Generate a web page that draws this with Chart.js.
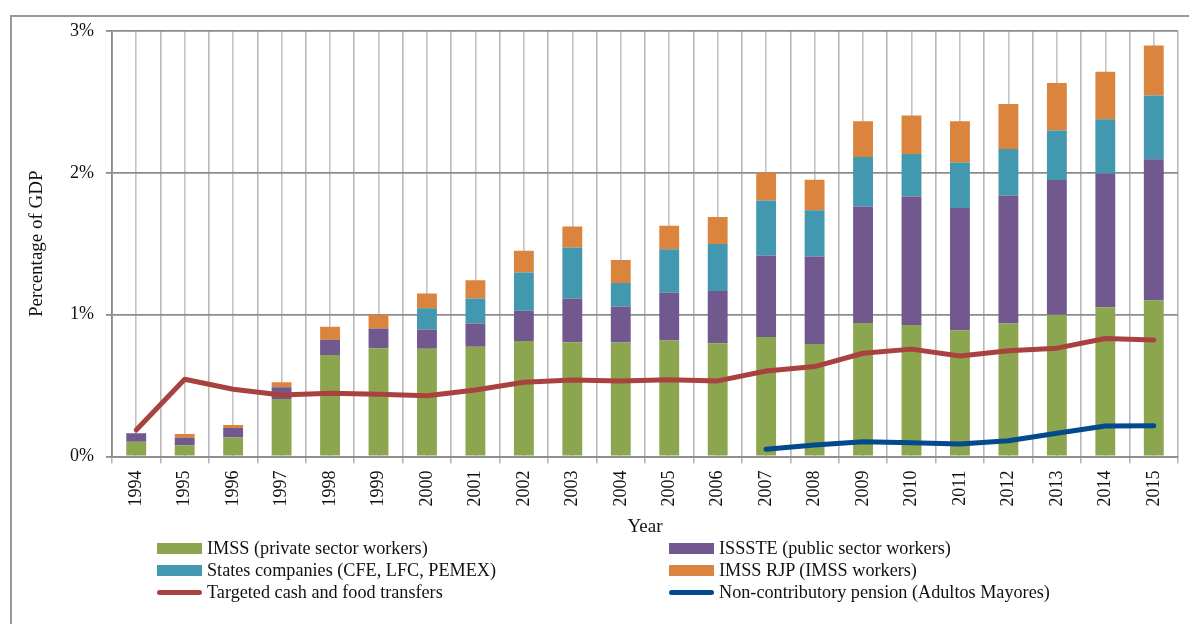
<!DOCTYPE html>
<html>
<head>
<meta charset="utf-8">
<script src="https://cdn.jsdelivr.net/npm/chart.js@4/dist/chart.umd.min.js"></script>
<style>
  body { margin: 0; background: #fff; }
  #wrap { position: relative; width: 1189px; height: 624px; overflow: hidden; font-family: "Liberation Serif", serif; }
  #frame { position: absolute; left: 10px; top: 15px; width: 1300px; height: 700px; border-left: 2px solid #9a9a9a; border-top: 2px solid #9a9a9a; }
  #chart { position: absolute; left: 0; top: 0; }
  #legend { position: absolute; left: 157px; top: 538px; display: grid; grid-template-columns: 512px 420px; grid-auto-rows: 21.7px; font-size: 18.2px; color: #111; }
  .item { display: flex; align-items: center; white-space: nowrap; }
  .sw { width: 45px; margin-right: 5px; flex: none; }
</style>
</head>
<body>
<div id="wrap">
  <div id="frame"></div>
  <canvas id="chart" width="1189" height="624"></canvas>
  <div id="legend"></div>
</div>
<script>
// values are % of GDP
var years = ['1994','1995','1996','1997','1998','1999','2000','2001','2002','2003','2004',
             '2005','2006','2007','2008','2009','2010','2011','2012','2013','2014','2015'];
var imss    = [0.104,0.079,0.135,0.406,0.716,0.764,0.759,0.773,0.815,0.806,0.803,0.817,0.799,0.843,0.794,0.942,0.928,0.890,0.937,0.999,1.053,1.100];
var issste  = [0.060,0.054,0.066,0.082,0.108,0.138,0.136,0.164,0.212,0.308,0.254,0.337,0.367,0.574,0.616,0.821,0.905,0.862,0.903,0.950,0.943,0.995];
var states  = [0,0,0,0,0,0,0.151,0.177,0.270,0.360,0.167,0.308,0.332,0.388,0.327,0.348,0.300,0.321,0.328,0.350,0.381,0.451];
var imssRjp = [0,0.026,0.021,0.036,0.090,0.097,0.103,0.129,0.153,0.148,0.161,0.165,0.190,0.198,0.214,0.252,0.272,0.290,0.318,0.335,0.336,0.351];
var transfers = [0.187,0.545,0.474,0.434,0.446,0.439,0.429,0.469,0.524,0.540,0.533,0.542,0.533,0.603,0.634,0.728,0.757,0.709,0.745,0.764,0.832,0.822];
var pension = [null,null,null,null,null,null,null,null,null,null,null,null,null,0.051,0.081,0.104,0.097,0.088,0.111,0.164,0.215,0.217];
var yTicks = [0, 1, 2, 3];

var colors = {
  imss: '#8BA64F', issste: '#71588F', states: '#4298AF', rjp: '#DB843D',
  transfers: '#A9423F', pension: '#024A8C'
};

Chart.defaults.font.family = '"Liberation Serif", serif';
Chart.defaults.font.size = 18;
Chart.defaults.color = '#111';

function bar(label, data, color) {
  return { type: 'bar', label: label, data: data, backgroundColor: color, borderWidth: 0,
           stack: 'bars', order: 1, categoryPercentage: 1, barPercentage: 0.41 };
}
// each line gets its own stack so it is not piled on the bars or the other line
function line(label, data, color, stackId) {
  return { type: 'line', label: label, data: data, borderColor: color, backgroundColor: color,
           borderWidth: 5, pointRadius: 0, tension: 0, order: 0, spanGaps: false, stack: stackId,
           borderCapStyle: 'round', borderJoinStyle: 'round' };
}

var datasets = [
  bar('IMSS (private sector workers)', imss, colors.imss),
  bar('ISSSTE (public sector workers)', issste, colors.issste),
  bar('States companies (CFE, LFC, PEMEX)', states, colors.states),
  bar('IMSS RJP (IMSS workers)', imssRjp, colors.rjp),
  line('Targeted cash and food transfers', transfers, colors.transfers, 'l1'),
  line('Non-contributory pension (Adultos Mayores)', pension, colors.pension, 'l2')
];

var ctx = document.getElementById('chart').getContext('2d');
var chart = new Chart(ctx, {
  type: 'bar',
  data: { labels: years, datasets: datasets },
  options: {
    responsive: false,
    animation: false,
    layout: { padding: { left: 0, top: 31, right: 11, bottom: 0 } },
    plugins: { legend: { display: false }, tooltip: { enabled: false } },
    scales: {
      x: {
        type: 'category', stacked: true, offset: true,
        grid: { offset: true, color: '#b8b8b8', lineWidth: 1.6, tickLength: 7, drawTicks: true },
        border: { display: true, color: '#8c8c8c', width: 1.8 },
        ticks: { minRotation: 90, maxRotation: 90, padding: 7, font: { size: 18 } },
        title: { display: true, text: 'Year', font: { size: 19 }, padding: { top: 0, bottom: 86 } },
        afterFit: function(s) { s.height = 167.5; }
      },
      x2: {
        type: 'category', axis: 'x', position: 'bottom', offset: true, labels: years,
        grid: { offset: false, color: '#c4c4c4', lineWidth: 1.6, drawTicks: false },
        border: { display: false },
        ticks: { display: false },
        afterFit: function(s) { s.height = 0; }
      },
      y: {
        stacked: true, min: 0, max: 3,
        afterBuildTicks: function(s) { s.ticks = yTicks.map(function(v) { return { value: v }; }); },
        grid: { color: '#8c8c8c', lineWidth: 1.8, tickLength: 6 },
        border: { display: true, color: '#8c8c8c', width: 1.8 },
        ticks: { padding: 12, font: { size: 18 }, callback: function(v) { return v + '%'; } },
        title: { display: true, text: 'Percentage of GDP', font: { size: 19 }, padding: { top: 26, bottom: 0 } },
        afterFit: function(s) { s.width = 112; }
      }
    }
  }
});

// two-column legend like the original, built from the chart's datasets
var legend = document.getElementById('legend');
chart.data.datasets.forEach(function(ds) {
  var item = document.createElement('div');
  item.className = 'item';
  var sw = document.createElement('span');
  sw.className = 'sw';
  if (ds.type === 'line') {
    sw.style.height = '5px';
    sw.style.borderRadius = '3px';
  } else {
    sw.style.height = '11px';
  }
  sw.style.background = ds.type === 'line' ? ds.borderColor : ds.backgroundColor;
  var txt = document.createElement('span');
  txt.textContent = ds.label;
  item.appendChild(sw);
  item.appendChild(txt);
  legend.appendChild(item);
});
</script>
</body>
</html>
